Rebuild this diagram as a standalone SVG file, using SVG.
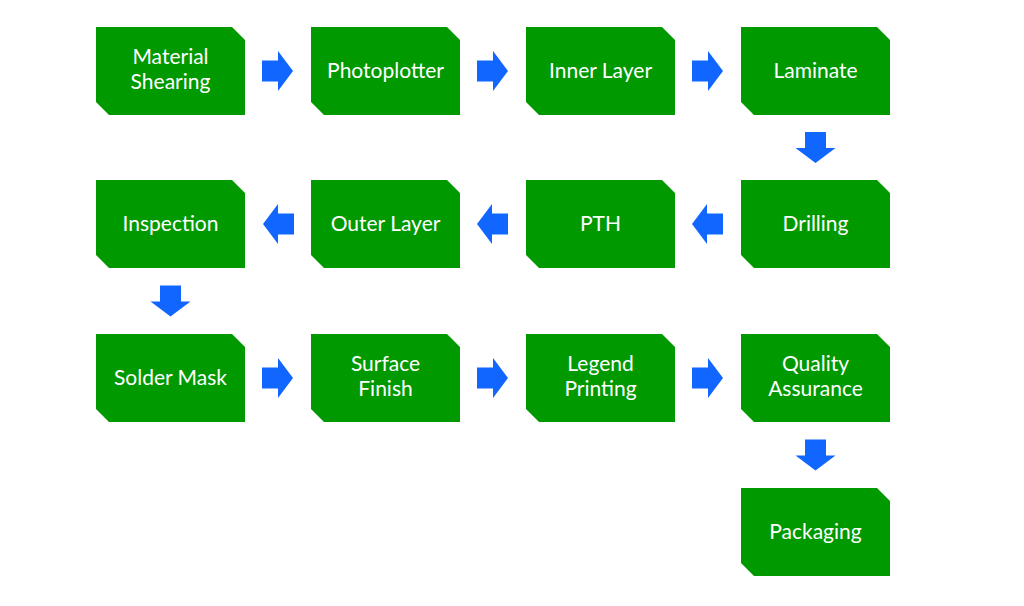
<svg xmlns="http://www.w3.org/2000/svg" xmlns:xlink="http://www.w3.org/1999/xlink" width="1024" height="606" viewBox="0 0 1024 606">
<style>
.node{fill:#009900;}
.lbl{font-family:Lato,"Liberation Sans",sans-serif;font-size:21px;fill:#ffffff;text-anchor:middle;}
.arr{fill:#1166FF;}
</style>
<defs>
<polygon id="box" points="0,0 136,0 149,13 149,88 13,88 0,75"/>
<path id="ar" d="M-15.5,-10.5 H0.5 V-20 L15.5,0 L0.5,20 V10.5 H-15.5 Z"/>
</defs>
<rect width="1024" height="606" fill="#ffffff"/>
<g id="n1" transform="translate(96,27)"><use xlink:href="#box" class="node"/><text class="lbl" x="74.5" y="37">Material</text><text class="lbl" x="74.5" y="62">Shearing</text></g>
<g id="n2" transform="translate(311,27)"><use xlink:href="#box" class="node"/><text class="lbl" x="74.5" y="51">Photoplotter</text></g>
<g id="n3" transform="translate(526,27)"><use xlink:href="#box" class="node"/><text class="lbl" x="74.5" y="51">Inner Layer</text></g>
<g id="n4" transform="translate(741,27)"><use xlink:href="#box" class="node"/><text class="lbl" x="74.5" y="51">Laminate</text></g>
<g id="n5" transform="translate(741,180)"><use xlink:href="#box" class="node"/><text class="lbl" x="74.5" y="51">Drilling</text></g>
<g id="n6" transform="translate(526,180)"><use xlink:href="#box" class="node"/><text class="lbl" x="74.5" y="51">PTH</text></g>
<g id="n7" transform="translate(311,180)"><use xlink:href="#box" class="node"/><text class="lbl" x="74.5" y="51">Outer Layer</text></g>
<g id="n8" transform="translate(96,180)"><use xlink:href="#box" class="node"/><text class="lbl" x="74.5" y="51">Inspection</text></g>
<g id="n9" transform="translate(96,334)"><use xlink:href="#box" class="node"/><text class="lbl" x="74.5" y="51">Solder Mask</text></g>
<g id="n10" transform="translate(311,334)"><use xlink:href="#box" class="node"/><text class="lbl" x="74.5" y="37">Surface</text><text class="lbl" x="74.5" y="62">Finish</text></g>
<g id="n11" transform="translate(526,334)"><use xlink:href="#box" class="node"/><text class="lbl" x="74.5" y="37">Legend</text><text class="lbl" x="74.5" y="62">Printing</text></g>
<g id="n12" transform="translate(741,334)"><use xlink:href="#box" class="node"/><text class="lbl" x="74.5" y="37">Quality</text><text class="lbl" x="74.5" y="62">Assurance</text></g>
<g id="n13" transform="translate(741,488)"><use xlink:href="#box" class="node"/><text class="lbl" x="74.5" y="51">Packaging</text></g>
<g id="connectors" class="arr">
<use xlink:href="#ar" transform="translate(277.5,71)"/>
<use xlink:href="#ar" transform="translate(492.5,71)"/>
<use xlink:href="#ar" transform="translate(707.5,71)"/>
<use xlink:href="#ar" transform="translate(815.5,147.5) rotate(90)"/>
<use xlink:href="#ar" transform="translate(707.5,224) rotate(180)"/>
<use xlink:href="#ar" transform="translate(492.5,224) rotate(180)"/>
<use xlink:href="#ar" transform="translate(278.5,224) rotate(180)"/>
<use xlink:href="#ar" transform="translate(170.5,301) rotate(90)"/>
<use xlink:href="#ar" transform="translate(277.5,378)"/>
<use xlink:href="#ar" transform="translate(492.5,378)"/>
<use xlink:href="#ar" transform="translate(707.5,378)"/>
<use xlink:href="#ar" transform="translate(815.5,455) rotate(90)"/>
</g>
</svg>
